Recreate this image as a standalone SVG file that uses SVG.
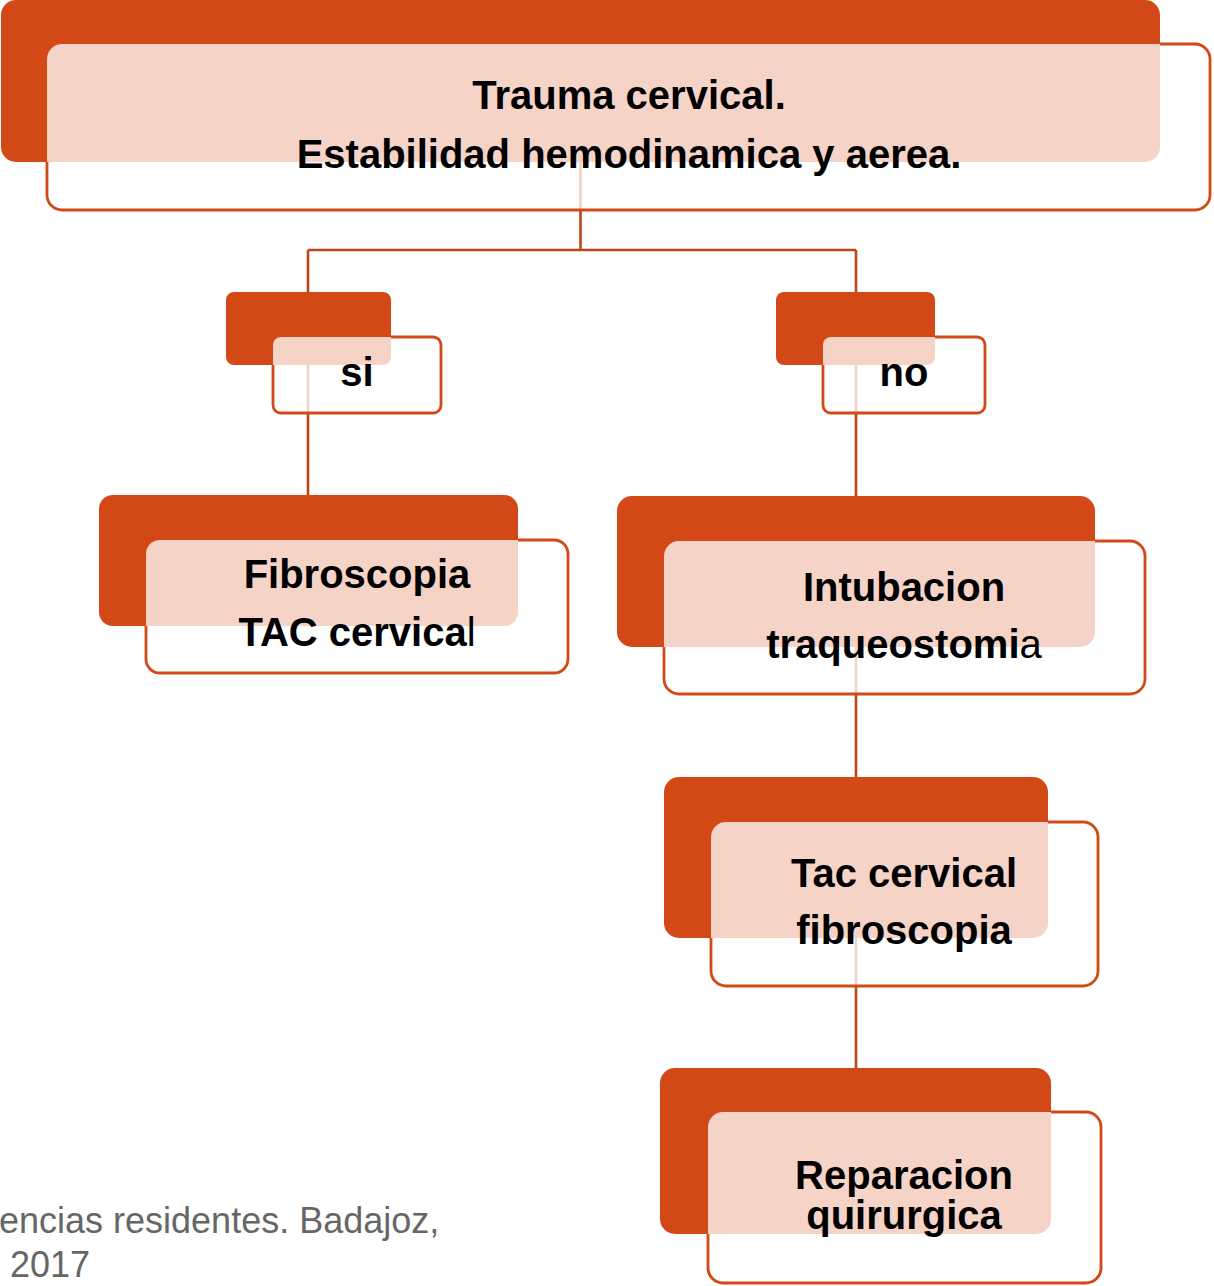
<svg xmlns="http://www.w3.org/2000/svg" width="1214" height="1286" viewBox="0 0 1214 1286">
<style>
.back{fill:#D34817;}
.front{fill:#ffffff;fill-opacity:0.76;stroke:none;}
.edge{fill:none;stroke:#D34817;stroke-width:2.8;}
.conn{fill:none;stroke:#BE4519;stroke-width:2.6;}
.lbl{font-family:"Liberation Sans",Arial,sans-serif;font-weight:bold;font-size:40px;fill:#000;text-anchor:middle;}
.reg{font-weight:normal;}
.foot{font-family:"Liberation Sans",Arial,sans-serif;font-size:36px;fill:#666;}
</style>
<rect width="1214" height="1286" fill="#fff"/>
<g id="connectors">
<path class="conn" d="M580.5 162 V250"/>
<path class="conn" d="M308 250 H856"/>
<path class="conn" d="M308 250 V495"/>
<path class="conn" d="M856 250 V1068"/>
</g>
<g id="n-trauma">
<rect class="back" x="1" y="0" width="1159" height="162" rx="15"/>
<rect class="front" x="47" y="44" width="1163" height="166" rx="15"/>
<path class="edge" d="M1160 44 H1195 A15 15 0 0 1 1210 59 V195 A15 15 0 0 1 1195 210 H62 A15 15 0 0 1 47 195 V162"/>
<text class="lbl" x="629" y="109">Trauma cervical.</text>
<text class="lbl" x="629" y="168">Estabilidad hemodinamica y aerea.</text>
</g>
<g id="n-si">
<rect class="back" x="226" y="292" width="165" height="73" rx="8"/>
<rect class="front" x="273" y="337" width="168" height="76" rx="8"/>
<path class="edge" d="M391 337 H433 A8 8 0 0 1 441 345 V405 A8 8 0 0 1 433 413 H281 A8 8 0 0 1 273 405 V365"/>
<text class="lbl" x="357" y="386">si</text>
</g>
<g id="n-no">
<rect class="back" x="776" y="292" width="159" height="73" rx="8"/>
<rect class="front" x="823" y="337" width="162" height="76" rx="8"/>
<path class="edge" d="M935 337 H977 A8 8 0 0 1 985 345 V405 A8 8 0 0 1 977 413 H831 A8 8 0 0 1 823 405 V365"/>
<text class="lbl" x="904" y="386">no</text>
</g>
<g id="n-fibro">
<rect class="back" x="99" y="495" width="419" height="131" rx="14"/>
<rect class="front" x="146" y="540" width="422" height="133" rx="14"/>
<path class="edge" d="M518 540 H554 A14 14 0 0 1 568 554 V659 A14 14 0 0 1 554 673 H160 A14 14 0 0 1 146 659 V626"/>
<text class="lbl" x="357" y="588">Fibroscopia</text>
<text class="lbl" x="357" y="646">TAC cervica<tspan class="reg">l</tspan></text>
</g>
<g id="n-intub">
<rect class="back" x="617" y="496" width="478" height="151" rx="15"/>
<rect class="front" x="664" y="541" width="481" height="153" rx="15"/>
<path class="edge" d="M1095 541 H1130 A15 15 0 0 1 1145 556 V679 A15 15 0 0 1 1130 694 H679 A15 15 0 0 1 664 679 V647"/>
<text class="lbl" x="904" y="601">Intubacion</text>
<text class="lbl" x="904" y="658">traqueostomi<tspan class="reg">a</tspan></text>
</g>
<g id="n-tac">
<rect class="back" x="664" y="777" width="384" height="161" rx="15"/>
<rect class="front" x="711" y="822" width="387" height="164" rx="15"/>
<path class="edge" d="M1048 822 H1083 A15 15 0 0 1 1098 837 V971 A15 15 0 0 1 1083 986 H726 A15 15 0 0 1 711 971 V938"/>
<text class="lbl" x="904" y="887">Tac cervical</text>
<text class="lbl" x="904" y="944">fibroscopia</text>
</g>
<g id="n-rep">
<rect class="back" x="660" y="1068" width="391" height="166" rx="15"/>
<rect class="front" x="708" y="1112" width="393" height="171" rx="15"/>
<path class="edge" d="M1051 1112 H1086 A15 15 0 0 1 1101 1127 V1268 A15 15 0 0 1 1086 1283 H723 A15 15 0 0 1 708 1268 V1234"/>
<text class="lbl" x="904" y="1189">Reparacion</text>
<text class="lbl" x="904" y="1229">quirurgica</text>
</g>
<g id="footer">
<text class="foot" x="-1" y="1233">encias residentes. Badajoz,</text>
<text class="foot" x="10" y="1277">2017</text>
</g>
</svg>
